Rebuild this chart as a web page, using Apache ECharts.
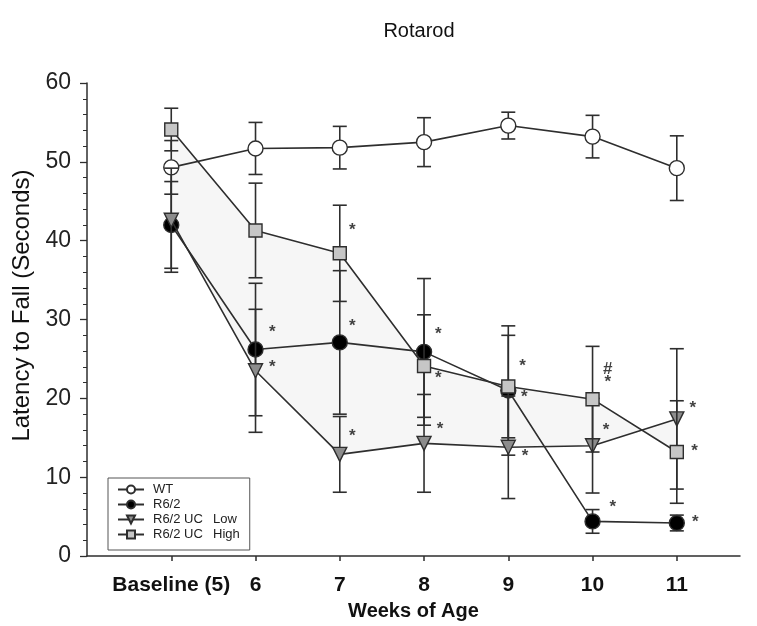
<!DOCTYPE html>
<html><head><meta charset="utf-8">
<script src="https://cdn.jsdelivr.net/npm/echarts@6/dist/echarts.min.js"></script>
<style>html,body{margin:0;padding:0;background:#fff}#c{width:757px;height:626px}</style>
</head><body><div id="c"></div>
<script>
// ---- data ----
const weeks = [5, 6, 7, 8, 9, 10, 11];
const weekLabels = ['Baseline (5)', '6', '7', '8', '9', '10', '11'];
const wtMean   = [49.3, 51.7, 51.8, 52.5, 54.6, 53.2, 49.2];
const wtErr    = [3.4, 3.3, 2.7, 3.1, 1.7, 2.7, 4.1];
const r62Mean  = [42.0, 26.2, 27.1, 25.9, 21.0, 4.4, 4.2];
const r62Err   = [5.5, 8.4, 9.1, 9.3, 8.2, 1.5, 1.0];
const lowMean  = [42.6, 23.5, 12.9, 14.3, 13.8, 14.0, 17.4];
const lowErr   = [6.6, 7.8, 4.8, 6.2, 6.5, 6.0, 8.9];
const highMean = [54.1, 41.3, 38.4, 24.1, 21.5, 19.9, 13.2];
const highErr  = [2.7, 6.0, 6.1, 6.5, 6.5, 6.7, 6.5];
const yTicks = [0, 10, 20, 30, 40, 50, 60];
// significance marks (position in data units, text)
const markX = [6.2, 6.2, 7.15, 7.15, 7.15, 8.17, 8.17, 8.19, 9.17, 9.19, 9.2, 10.18, 10.18, 10.16, 10.24, 11.19, 11.21, 11.22];
const markY = [28.4, 23.9, 41.3, 29.1, 15.2, 28.1, 22.5, 16.1, 24.1, 20.1, 12.7, 23.7, 22.0, 15.9, 6.2, 18.7, 13.3, 4.3];
const markText = ['*', '*', '*', '*', '*', '*', '*', '*', '*', '*', '*', '#', '*', '*', '*', '*', '*', '*'];

const LINE = '#2e2e2e';
const FONT = 'Liberation Sans, Arial, sans-serif';
function errData(mean, err) { return weeks.map((w, i) => [w, mean[i] - err[i], mean[i] + err[i]]); }
function pts(mean) { return weeks.map((w, i) => [w, mean[i]]); }
function errSeries(mean, err, z) {
  return {
    type: 'custom', z: z, silent: true,
    encode: { x: 0, y: [1, 2] },
    data: errData(mean, err),
    renderItem: function (params, api) {
      const lo = api.coord([api.value(0), api.value(1)]);
      const hi = api.coord([api.value(0), api.value(2)]);
      const hw = 7;
      const st = { stroke: LINE, lineWidth: 1.6 };
      return { type: 'group', children: [
        { type: 'line', shape: { x1: lo[0], y1: lo[1], x2: hi[0], y2: hi[1] }, style: st },
        { type: 'line', shape: { x1: lo[0] - hw, y1: lo[1], x2: lo[0] + hw, y2: lo[1] }, style: st },
        { type: 'line', shape: { x1: hi[0] - hw, y1: hi[1], x2: hi[0] + hw, y2: hi[1] }, style: st }
      ]};
    }
  };
}
function lineSeries(name, mean, z, symbol, size, fill, rotate) {
  return {
    name: name, type: 'line', z: z, data: pts(mean),
    symbol: symbol, symbolSize: size, symbolRotate: rotate || 0,
    showAllSymbol: true,
    lineStyle: { color: LINE, width: 1.6 },
    itemStyle: { color: fill, borderColor: LINE, borderWidth: 1.4, opacity: 1 },
    emphasis: { disabled: true }
  };
}

const chart = echarts.init(document.getElementById('c'), null, { renderer: 'canvas' });
chart.setOption({
  animation: false,
  backgroundColor: '#fff',
  title: {
    text: 'Rotarod', left: 414, top: 16, textAlign: 'center',
    textStyle: { fontFamily: FONT, fontSize: 20, fontWeight: 'normal', color: '#111' }
  },
  grid: { left: 87, right: 17, top: 83, bottom: 69, containLabel: false },
  legend: {
    left: 108, top: 478, orient: 'vertical',
    data: ['WT', 'R6/2', 'R6/2 UC Low', 'R6/2 UC High'],
    itemWidth: 26, itemHeight: 10, itemGap: 2,
    padding: [5, 10, 9, 9],
    borderColor: '#555', borderWidth: 1,
    symbolRotate: 'inherit',
    textStyle: {
      fontFamily: FONT, fontSize: 13, lineHeight: 12.5, color: '#222', padding: [0, 0, 0, 4],
      rich: { a: { width: 60, fontSize: 13, lineHeight: 12.5, fontFamily: FONT, color: '#222' },
              b: { fontSize: 13, lineHeight: 12.5, fontFamily: FONT, color: '#222' } }
    },
    formatter: function (name) {
      if (name.indexOf('R6/2 UC ') === 0) return '{a|R6/2 UC}{b|' + name.slice(8) + '}';
      return name;
    }
  },
  xAxis: {
    type: 'value', min: 4, max: 11.75,
    name: 'Weeks of Age', nameLocation: 'middle', nameGap: 40,
    nameTextStyle: { fontFamily: FONT, fontSize: 20, fontWeight: 'bold', color: '#111' },
    axisLine: { lineStyle: { color: LINE, width: 1.5 } },
    axisTick: { customValues: weeks, inside: false, length: 5, lineStyle: { color: LINE, width: 1.5 } },
    axisLabel: {
      customValues: weeks, margin: 19,
      formatter: function (v) { const i = weeks.indexOf(Math.round(v)); return i >= 0 ? weekLabels[i] : ''; },
      fontFamily: FONT, fontSize: 21, fontWeight: 'bold', color: '#111'
    },
    splitLine: { show: false }
  },
  yAxis: {
    type: 'value', min: 0, max: 60, interval: 10,
    name: 'Latency to Fall (Seconds)', nameLocation: 'middle', nameGap: 46,
    nameTextStyle: { fontFamily: FONT, fontSize: 24, color: '#111', padding: [0, 0, 0, 28] },
    axisLine: { show: true, lineStyle: { color: LINE, width: 1.5 } },
    axisTick: { show: true, inside: false, length: 7, lineStyle: { color: LINE, width: 1.3 } },
    minorTick: { show: true, splitNumber: 5, length: 4, lineStyle: { color: LINE, width: 1 } },
    axisLabel: {
      margin: 16, fontFamily: FONT, fontSize: 23, color: '#222',
      customValues: yTicks
    },
    splitLine: { show: false }
  },
  series: [
    {
      type: 'custom', z: 1, silent: true,
      data: [[weeks[0], lowMean[0]]],
      encode: { x: 0, y: 1 },
      renderItem: function (params, api) {
        const top = weeks.map((w, i) => api.coord([w, highMean[i]]));
        const bot = weeks.map((w, i) => api.coord([w, lowMean[i]])).reverse();
        return { type: 'polygon', shape: { points: top.concat(bot) }, style: { fill: '#f6f6f6', stroke: null } };
      }
    },
    errSeries(wtMean, wtErr, 2),
    lineSeries('WT', wtMean, 3, 'circle', 15, '#fff'),
    errSeries(r62Mean, r62Err, 4),
    lineSeries('R6/2', r62Mean, 5, 'circle', 15, '#000'),
    errSeries(lowMean, lowErr, 6),
    lineSeries('R6/2 UC Low', lowMean, 7, 'triangle', 14, '#8c8c8c', 180),
    errSeries(highMean, highErr, 8),
    lineSeries('R6/2 UC High', highMean, 9, 'rect', 13, '#c6c6c6'),
    {
      type: 'scatter', z: 10, silent: true, symbolSize: 0,
      data: markX.map((x, i) => [x, markY[i], markText[i]]),
      label: {
        show: true, position: 'inside', formatter: p => p.data[2],
        fontFamily: FONT, fontSize: 17, fontWeight: 'bold', color: '#111'
      }
    }
  ]
});
</script>
</body></html>
